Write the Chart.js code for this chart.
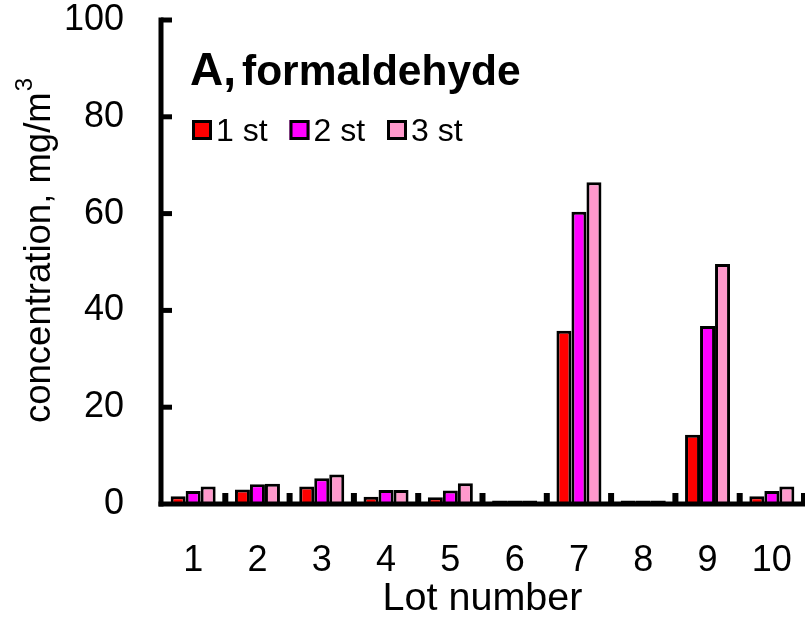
<!DOCTYPE html>
<html>
<head>
<meta charset="utf-8">
<title>A, formaldehyde</title>
<script src="https://cdn.jsdelivr.net/npm/chart.js@4.4.1/dist/chart.umd.min.js"></script>
<style>
  html, body { margin: 0; padding: 0; background: #ffffff; }
  #wrap { width: 805px; height: 621px; }
  canvas { display: block; }
</style>
</head>
<body>
<div id="wrap"><canvas id="chart" width="805" height="621"></canvas></div>
<script>
// Lots and measured formaldehyde concentration (mg/m3) per stage
const lots = ['1', '2', '3', '4', '5', '6', '7', '8', '9', '10'];
const stage1 = [1.6, 3.0, 3.6, 1.5, 1.4, 0.7, 35.8, 0.7, 14.3, 1.6];
const stage2 = [2.7, 4.1, 5.3, 2.9, 2.8, 0.7, 60.4, 0.7, 36.8, 2.7];
const stage3 = [3.6, 4.2, 6.1, 2.9, 4.3, 0.7, 66.5, 0.7, 49.6, 3.6];
const stageNames = ['1 st', '2 st', '3 st'];
const stageColors = ['#ff0000', '#ff00ff', '#ff99cc'];
const yTickValues = [0, 20, 40, 60, 80, 100];

const FONT = '"Liberation Sans", Arial, Helvetica, sans-serif';

// Black frame: thick axes, inward ticks on the value axis and
// short upward ticks between the lots.
const frameAxes = {
  id: 'frameAxes',
  afterDatasetsDraw(chart) {
    const { ctx, chartArea, scales } = chart;
    const x = scales.x, y = scales.y;
    const left = chartArea.left, right = chartArea.right;
    const y0 = y.getPixelForValue(0);
    const yTop = y.getPixelForValue(100);
    ctx.save();
    ctx.strokeStyle = '#000';
    ctx.lineCap = 'butt';
    ctx.lineWidth = 5;
    ctx.beginPath();
    ctx.moveTo(left, yTop - 2.5);
    ctx.lineTo(left, y0 + 2.5);
    ctx.stroke();
    ctx.beginPath();
    ctx.moveTo(left - 2.5, y0);
    ctx.lineTo(right + 2, y0);
    ctx.stroke();
    yTickValues.forEach(v => {
      if (v === 0) return;
      const py = y.getPixelForValue(v);
      ctx.beginPath();
      ctx.moveTo(left, py);
      ctx.lineTo(left + 11, py);
      ctx.stroke();
    });
    ctx.lineWidth = 6;
    for (let i = 1; i <= lots.length; i++) {
      const px = x.getPixelForValue(i - 0.5);
      ctx.beginPath();
      ctx.moveTo(px, y0);
      ctx.lineTo(px, y0 - 11);
      ctx.stroke();
    }
    ctx.restore();
  }
};

// Panel heading, stage key and the value-axis caption with its superscript
const panelLabels = {
  id: 'panelLabels',
  afterDraw(chart) {
    const { ctx } = chart;
    ctx.save();
    ctx.fillStyle = '#000';
    ctx.textBaseline = 'alphabetic';
    ctx.textAlign = 'left';
    ctx.font = 'bold 46px ' + FONT;
    const hx = 190, hy = 85;
    ctx.fillText('A,', hx, hy);
    ctx.font = 'bold 42.5px ' + FONT;
    ctx.fillText('formaldehyde', 242, hy);

    ctx.font = '32px ' + FONT;
    chart.data.datasets.forEach((ds, i) => {
      const bx = 192 + i * 97.5, by = 120, s = 20;
      ctx.fillStyle = ds.backgroundColor;
      ctx.fillRect(bx, by, s, s);
      ctx.lineWidth = 3;
      ctx.strokeStyle = '#000';
      ctx.strokeRect(bx + 1.5, by + 1.5, s - 3, s - 3);
      ctx.fillStyle = '#000';
      ctx.fillText(ds.label, bx + 24, by + 21);
    });

    // rotated caption of the value axis
    ctx.translate(50, 423);
    ctx.rotate(-Math.PI / 2);
    ctx.font = '36.5px ' + FONT;
    const main = 'concentration, mg/m';
    ctx.fillText(main, 0, 0);
    const mw = ctx.measureText(main).width;
    ctx.font = '24px ' + FONT;
    ctx.fillText('3', mw + 1, -18);
    ctx.restore();
  }
};

const datasets = [stage1, stage2, stage3].map((vals, i) => ({
  label: stageNames[i],
  data: vals,
  backgroundColor: stageColors[i],
  borderColor: '#000000',
  borderWidth: 3,
  categoryPercentage: 0.7,
  barPercentage: 1.0
}));

new Chart(document.getElementById('chart'), {
  type: 'bar',
  data: { labels: lots, datasets: datasets },
  options: {
    responsive: false,
    animation: false,
    devicePixelRatio: 1,
    layout: { padding: { top: 20, right: 1, left: 0, bottom: 0 } },
    plugins: {
      legend: { display: false },
      tooltip: { enabled: false },
      title: { display: false }
    },
    scales: {
      x: {
        grid: { display: false, drawTicks: false },
        border: { display: false },
        ticks: {
          color: '#000',
          font: { family: FONT, size: 36 },
          padding: 35,
          maxRotation: 0,
          autoSkip: false
        },
        title: {
          display: true,
          text: 'Lot number',
          color: '#000',
          font: { family: FONT, size: 39.5, lineHeight: 1.1 },
          padding: { top: 0, bottom: 0 }
        },
        afterFit(scale) {
          scale.height = 117;
          scale.paddingLeft = 0;
          scale.paddingRight = 0;
        }
      },
      y: {
        min: 0,
        max: 100,
        grid: { display: false, drawTicks: false },
        border: { display: false },
        afterBuildTicks(scale) { scale.ticks = yTickValues.map(v => ({ value: v })); },
        ticks: {
          color: '#000',
          font: { family: FONT, size: 36 },
          padding: 37
        },
        afterFit(scale) {
          scale.width = 161;
          scale.paddingTop = 0;
          scale.paddingBottom = 0;
        }
      }
    }
  },
  plugins: [frameAxes, panelLabels]
});
</script>
</body>
</html>
